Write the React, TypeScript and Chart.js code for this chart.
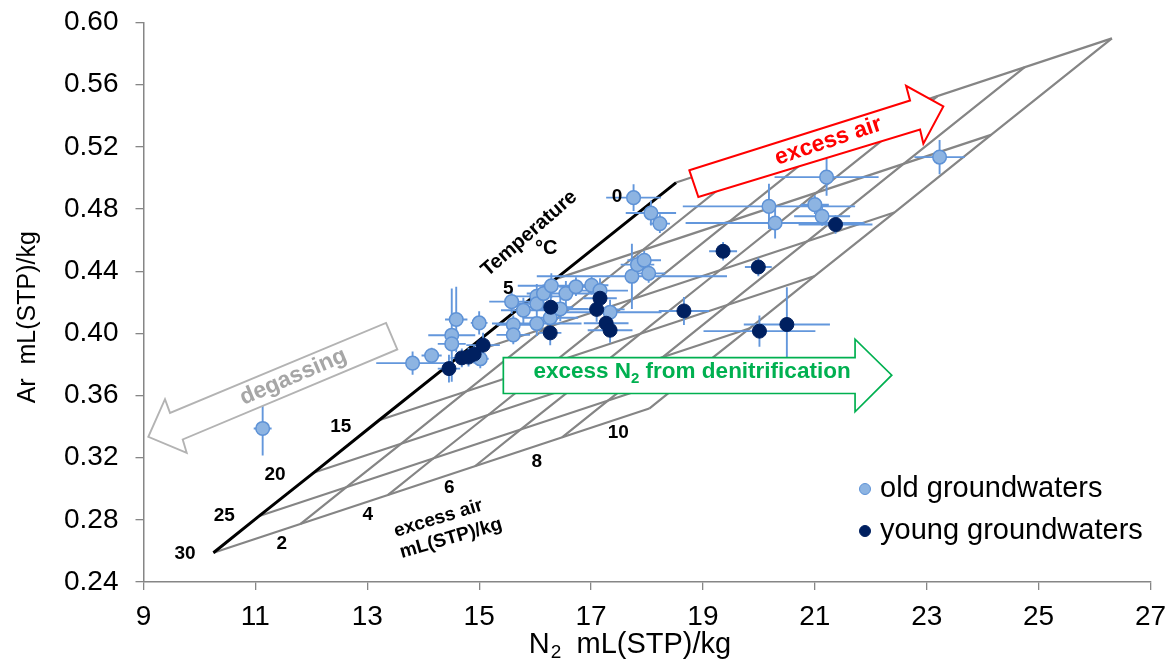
import React, { useEffect, useRef } from 'react';
import { Chart, registerables } from 'chart.js';

Chart.register(...registerables);

const FONT = "'Liberation Sans', Arial, sans-serif";

// ---- axes ----
const xMin = 9;
const xMax = 27;
const xStep = 2;
const yMin = 0.24;
const yMax = 0.6;
const yStep = 0.04;

// ---- old groundwaters (N2, Ar, errors) ----
const oldN2 = [11.13, 13.81, 14.15, 14.51, 14.51, 14.59, 15.0, 15.02, 15.58, 15.61, 15.61, 15.79, 16.03, 16.03, 16.03, 16.15, 16.29, 16.27, 16.45, 16.55, 16.73, 17.01, 17.16, 17.34, 17.73, 17.83, 17.95, 18.03, 17.76, 18.07, 18.23, 20.18, 20.29, 21.0, 21.13, 21.21, 23.23];
const oldAr = [0.3388, 0.3808, 0.3857, 0.3988, 0.3932, 0.4089, 0.4067, 0.3836, 0.4204, 0.4055, 0.399, 0.4149, 0.4238, 0.419, 0.4063, 0.4256, 0.4306, 0.41, 0.4157, 0.4256, 0.43, 0.4309, 0.4275, 0.4136, 0.4367, 0.4442, 0.447, 0.4386, 0.4873, 0.4774, 0.4706, 0.4817, 0.471, 0.4828, 0.4753, 0.5005, 0.5134];
const oldN2Err = [0.16, 0.65, 0.18, 0.42, 0.25, 0.2, 0.15, 0.15, 0.4, 0.3, 0.3, 0.4, 0.5, 0.5, 0.8, 0.3, 0.6, 0.5, 0.5, 0.5, 0.3, 0.3, 0.5, 0.92, 1.7, 0.3, 0.3, 0.3, 0.49, 0.45, 0.18, 1.54, 1.6, 0.25, 0.5, 0.93, 0.45];
const oldArErr = [0.0174, 0.0075, 0.005, 0.03, 0.006, 0.021, 0.0075, 0.006, 0.008, 0.006, 0.006, 0.008, 0.008, 0.008, 0.008, 0.006, 0.008, 0.008, 0.008, 0.008, 0.006, 0.006, 0.008, 0.008, 0.021, 0.006, 0.006, 0.006, 0.0086, 0.008, 0.006, 0.0145, 0.01, 0.006, 0.006, 0.012, 0.011];

// ---- young groundwaters ----
const youngN2 = [14.46, 14.69, 14.81, 14.91, 15.07, 16.28, 16.27, 17.16, 17.1, 17.27, 17.34, 18.66, 19.36, 19.99, 21.37, 20.01, 20.5];
const youngAr = [0.3773, 0.3842, 0.3847, 0.3866, 0.3924, 0.4168, 0.4003, 0.4226, 0.4154, 0.4065, 0.402, 0.4144, 0.4528, 0.4427, 0.47, 0.4014, 0.4057];
const youngN2Err = [0.2, 0.2, 0.2, 0.2, 0.3, 0.4, 0.2, 0.3, 0.5, 0.4, 0.4, 0.45, 0.25, 0.24, 0.66, 1.0, 0.77];
const youngArErr = [0.009, 0.006, 0.006, 0.006, 0.008, 0.01, 0.008, 0.008, 0.008, 0.006, 0.008, 0.009, 0.006, 0.006, 0.006, 0.01, 0.024];

// ---- equilibrium line (temperature) and excess-air grid ----
const tempC = [0, 5, 10, 15, 20, 25, 30];
const eqN2 = [18.52, 16.36, 14.63, 13.21, 12.05, 11.07, 10.25];
const eqAr = [0.497, 0.4349, 0.3849, 0.3441, 0.3105, 0.2825, 0.2588];
const excessAir = [0, 2, 4, 6, 8, 10];
const airN2PerMl = 0.779;
const airArPerMl = 0.00928;

// ---- annotation labels (data coordinates) ----
const tempLabelText = ['0', '5', '15', '20', '25', '30'];
const tempLabelN2 = [17.465, 15.521, 12.525, 11.351, 10.444, 9.742];
const tempLabelAr = [0.4877, 0.4288, 0.3398, 0.3088, 0.2824, 0.258];
const eaLabelText = ['2', '4', '6', '8', '10'];
const eaLabelN2 = [11.47, 13.008, 14.467, 16.029, 17.488];
const eaLabelAr = [0.2649, 0.2831, 0.3009, 0.3173, 0.3362];

// ---- arrows (data coordinates) ----
const redArrowN2 = [18.757, 22.702, 22.631, 23.297, 22.94, 22.881, 18.918];
const redArrowAr = [0.5049, 0.5498, 0.5593, 0.546, 0.522, 0.5312, 0.4877];
const grayArrowN2 = [13.335, 13.537, 9.701, 9.772, 9.086, 9.384, 9.474];
const grayArrowAr = [0.4067, 0.3896, 0.3317, 0.3231, 0.3334, 0.3576, 0.3488];
const greenArrowN2 = [15.432, 21.719, 21.719, 22.375, 21.719, 21.719, 15.432];
const greenArrowAr = [0.3844, 0.3844, 0.3962, 0.3731, 0.3495, 0.3613, 0.3613];

const OLD_FILL = '#8db4e2';
const OLD_BORDER = '#5e92d6';
const YOUNG_FILL = '#002060';
const ERR_COLOR = '#6397dc';
const GRID_GRAY = '#858585';
const AXIS_GRAY = '#868686';

function sx(chart: any, v: number) {
  return chart.scales.x.getPixelForValue(v);
}
function sy(chart: any, v: number) {
  return chart.scales.y.getPixelForValue(v);
}

function rotText(ctx: CanvasRenderingContext2D, text: string, x: number, y: number, deg: number, font: string, color: string) {
  ctx.save();
  ctx.translate(x, y);
  ctx.rotate((deg * Math.PI) / 180);
  ctx.font = font;
  ctx.fillStyle = color;
  ctx.textAlign = 'center';
  ctx.textBaseline = 'middle';
  ctx.fillText(text, 0, 0);
  ctx.restore();
}

function drawPoly(chart: any, xs: number[], ys: number[], stroke: string, lw: number) {
  const ctx: CanvasRenderingContext2D = chart.ctx;
  ctx.save();
  ctx.beginPath();
  xs.forEach((x, i) => {
    const X = sx(chart, x);
    const Y = sy(chart, ys[i]);
    if (i === 0) ctx.moveTo(X, Y);
    else ctx.lineTo(X, Y);
  });
  ctx.closePath();
  ctx.fillStyle = '#ffffff';
  ctx.fill();
  ctx.strokeStyle = stroke;
  ctx.lineWidth = lw;
  ctx.lineJoin = 'miter';
  ctx.stroke();
  ctx.restore();
}

function drawErrors(chart: any, xs: number[], ys: number[], xe: number[], ye: number[]) {
  const ctx: CanvasRenderingContext2D = chart.ctx;
  ctx.save();
  ctx.strokeStyle = ERR_COLOR;
  ctx.lineWidth = 1.9;
  ctx.beginPath();
  xs.forEach((x, i) => {
    const y = ys[i];
    ctx.moveTo(sx(chart, x - xe[i]), sy(chart, y));
    ctx.lineTo(sx(chart, x + xe[i]), sy(chart, y));
    ctx.moveTo(sx(chart, x), sy(chart, y - ye[i]));
    ctx.lineTo(sx(chart, x), sy(chart, y + ye[i]));
  });
  ctx.stroke();
  ctx.restore();
}

const annotPlugin = {
  id: 'annot',
  afterDatasetDraw(chart: any, args: any) {
    const ds = chart.data.datasets[args.index];
    if (ds.role !== 'eq') return;
    const ctx: CanvasRenderingContext2D = chart.ctx;
    drawErrors(chart, oldN2, oldAr, oldN2Err, oldArErr);
    drawErrors(chart, youngN2, youngAr, youngN2Err, youngArErr);

    drawPoly(chart, redArrowN2, redArrowAr, '#ff0000', 2);
    drawPoly(chart, grayArrowN2, grayArrowAr, '#b3b3b3', 1.9);
    drawPoly(chart, greenArrowN2, greenArrowAr, '#00b050', 1.7);

    rotText(ctx, 'excess air', sx(chart, 21.242), sy(chart, 0.5236), -18.5, `bold 23px ${FONT}`, '#ff0000');
    rotText(ctx, 'degassing', sx(chart, 11.678), sy(chart, 0.372), -23, `bold 23px ${FONT}`, '#a6a6a6');

    // green text with subscript
    ctx.save();
    const gx = sx(chart, 18.805);
    const gy = sy(chart, 0.3763);
    const big = `bold 22.5px ${FONT}`;
    const small = `bold 15px ${FONT}`;
    ctx.font = big;
    const w1 = ctx.measureText('excess N').width;
    const w3 = ctx.measureText(' from denitrification').width;
    ctx.font = small;
    const w2 = ctx.measureText('2').width;
    const total = w1 + w2 + w3;
    let cx = gx - total / 2;
    ctx.fillStyle = '#00b050';
    ctx.textBaseline = 'alphabetic';
    ctx.textAlign = 'left';
    const base = gy + 8;
    ctx.font = big;
    ctx.fillText('excess N', cx, base);
    cx += w1;
    ctx.font = small;
    ctx.fillText('2', cx, base + 5);
    cx += w2;
    ctx.font = big;
    ctx.fillText(' from denitrification', cx, base);
    ctx.restore();

    const lab = `bold 19px ${FONT}`;
    tempLabelText.forEach((t, i) => rotText(ctx, t, sx(chart, tempLabelN2[i]), sy(chart, tempLabelAr[i]), 0, lab, '#000'));
    eaLabelText.forEach((t, i) => rotText(ctx, t, sx(chart, eaLabelN2[i]), sy(chart, eaLabelAr[i]), 0, lab, '#000'));
    rotText(ctx, 'Temperature', sx(chart, 15.895), sy(chart, 0.4642), -41, `bold 20px ${FONT}`, '#000');
    rotText(ctx, '°C', sx(chart, 16.2), sy(chart, 0.4548), 0, `bold 20px ${FONT}`, '#000');
    rotText(ctx, 'excess air', sx(chart, 14.27), sy(chart, 0.2809), -17, `bold 19px ${FONT}`, '#000');
    rotText(ctx, 'mL(STP)/kg', sx(chart, 14.497), sy(chart, 0.2681), -16, `bold 19px ${FONT}`, '#000');
  },
  afterDraw(chart: any) {
    const ctx: CanvasRenderingContext2D = chart.ctx;
    const area = chart.chartArea;
    // legend
    const mx = area.right - 285.5;
    const rows = [
      { y: area.bottom - 93, fill: OLD_FILL, border: OLD_BORDER, text: 'old groundwaters' },
      { y: area.bottom - 51, fill: YOUNG_FILL, border: YOUNG_FILL, text: 'young groundwaters' },
    ];
    rows.forEach((r) => {
      ctx.save();
      ctx.beginPath();
      ctx.arc(mx, r.y, 5.5, 0, Math.PI * 2);
      ctx.fillStyle = r.fill;
      ctx.fill();
      ctx.lineWidth = 1;
      ctx.strokeStyle = r.border;
      ctx.stroke();
      ctx.font = `29px ${FONT}`;
      ctx.fillStyle = '#000';
      ctx.textAlign = 'left';
      ctx.textBaseline = 'middle';
      ctx.fillText(r.text, mx + 15, r.y);
      ctx.restore();
    });

    // y axis title
    rotText(ctx, 'Ar  mL(STP)/kg', 28, (area.top + area.bottom) / 2 + 15, -90, `25px ${FONT}`, '#000');

    // x axis title with subscript
    ctx.save();
    const big = `29px ${FONT}`;
    const small = `19px ${FONT}`;
    ctx.font = big;
    const a = ctx.measureText('N').width;
    const c = ctx.measureText('  mL(STP)/kg').width;
    ctx.font = small;
    const b = ctx.measureText('2').width;
    const center = (area.left + area.right) / 2 - 17;
    let x = center - (a + b + c) / 2;
    const base = 653;
    ctx.fillStyle = '#000';
    ctx.textAlign = 'left';
    ctx.textBaseline = 'alphabetic';
    ctx.font = big;
    ctx.fillText('N', x, base);
    x += a;
    ctx.font = small;
    ctx.fillText('2', x + 1, base + 5);
    x += b;
    ctx.font = big;
    ctx.fillText('  mL(STP)/kg', x, base);
    ctx.restore();
  },
};

export default function App() {
  const ref = useRef<HTMLCanvasElement>(null);

  useEffect(() => {
    const canvas = ref.current;
    if (!canvas) return;

    const lineDs = (data: { x: number; y: number }[], color: string, width: number, role: string, order: number) => ({
      type: 'scatter' as const,
      data,
      showLine: true,
      borderColor: color,
      borderWidth: width,
      pointRadius: 0,
      pointHoverRadius: 0,
      fill: false,
      tension: 0,
      role,
      order,
    });

    const maxEA = excessAir[excessAir.length - 1];
    const gridSets: any[] = [];
    tempC.forEach((_, i) => {
      gridSets.push(
        lineDs(
          [
            { x: eqN2[i], y: eqAr[i] },
            { x: eqN2[i] + maxEA * airN2PerMl, y: eqAr[i] + maxEA * airArPerMl },
          ],
          GRID_GRAY,
          2.2,
          'grid',
          4
        )
      );
    });
    excessAir
      .filter((a) => a > 0)
      .forEach((a) => {
        gridSets.push(
          lineDs(
            tempC.map((_, i) => ({ x: eqN2[i] + a * airN2PerMl, y: eqAr[i] + a * airArPerMl })),
            GRID_GRAY,
            2.2,
            'grid',
            4
          )
        );
      });

    const chart = new Chart(canvas, {
      type: 'scatter',
      data: {
        datasets: [
          {
            label: 'young groundwaters',
            data: youngN2.map((x, i) => ({ x, y: youngAr[i] })),
            pointRadius: 7,
            pointBackgroundColor: YOUNG_FILL,
            pointBorderColor: YOUNG_FILL,
            pointBorderWidth: 1,
            order: 0,
          } as any,
          {
            label: 'old groundwaters',
            data: oldN2.map((x, i) => ({ x, y: oldAr[i] })),
            pointRadius: 6.8,
            pointBackgroundColor: OLD_FILL,
            pointBorderColor: OLD_BORDER,
            pointBorderWidth: 1.5,
            order: 1,
          } as any,
          lineDs(
            tempC.map((_, i) => ({ x: eqN2[i], y: eqAr[i] })),
            '#000000',
            3,
            'eq',
            2
          ),
          ...gridSets,
        ],
      },
      options: {
        responsive: false,
        devicePixelRatio: 1,
        animation: false,
        events: [],
        layout: { padding: { left: 0, right: 17.5, top: 22.5, bottom: 0 } },
        plugins: {
          legend: { display: false },
          tooltip: { enabled: false },
          title: { display: false },
        },
        scales: {
          x: {
            type: 'linear',
            min: xMin,
            max: xMax,
            afterFit: (s: any) => {
              s.height = 79;
              s.paddingLeft = 0;
              s.paddingRight = 0;
            },
            ticks: {
              stepSize: xStep,
              color: '#000',
              font: { family: FONT, size: 28 },
              padding: 10,
              maxRotation: 0,
            },
            grid: {
              drawOnChartArea: false,
              drawTicks: true,
              tickLength: 8,
              color: AXIS_GRAY,
              lineWidth: 1.3,
            },
            border: { display: true, color: AXIS_GRAY, width: 1.5 },
          },
          y: {
            type: 'linear',
            min: yMin,
            max: yMax,
            afterFit: (s: any) => {
              s.width = 143.5;
              s.paddingTop = 0;
              s.paddingBottom = 0;
            },
            ticks: {
              stepSize: yStep,
              color: '#000',
              font: { family: FONT, size: 28 },
              padding: 17,
              callback: (v: any) => Number(v).toFixed(2),
            },
            grid: {
              drawOnChartArea: false,
              drawTicks: true,
              tickLength: 8,
              color: AXIS_GRAY,
              lineWidth: 1.3,
            },
            border: { display: true, color: AXIS_GRAY, width: 1.5 },
          },
        },
      } as any,
      plugins: [annotPlugin],
    });

    return () => chart.destroy();
  }, []);

  return (
    <div style={{ position: 'fixed', left: 0, top: 0, width: 1168, height: 661, background: '#ffffff' }}>
      <canvas ref={ref} width={1168} height={661} style={{ display: 'block', width: 1168, height: 661 }} />
    </div>
  );
}
